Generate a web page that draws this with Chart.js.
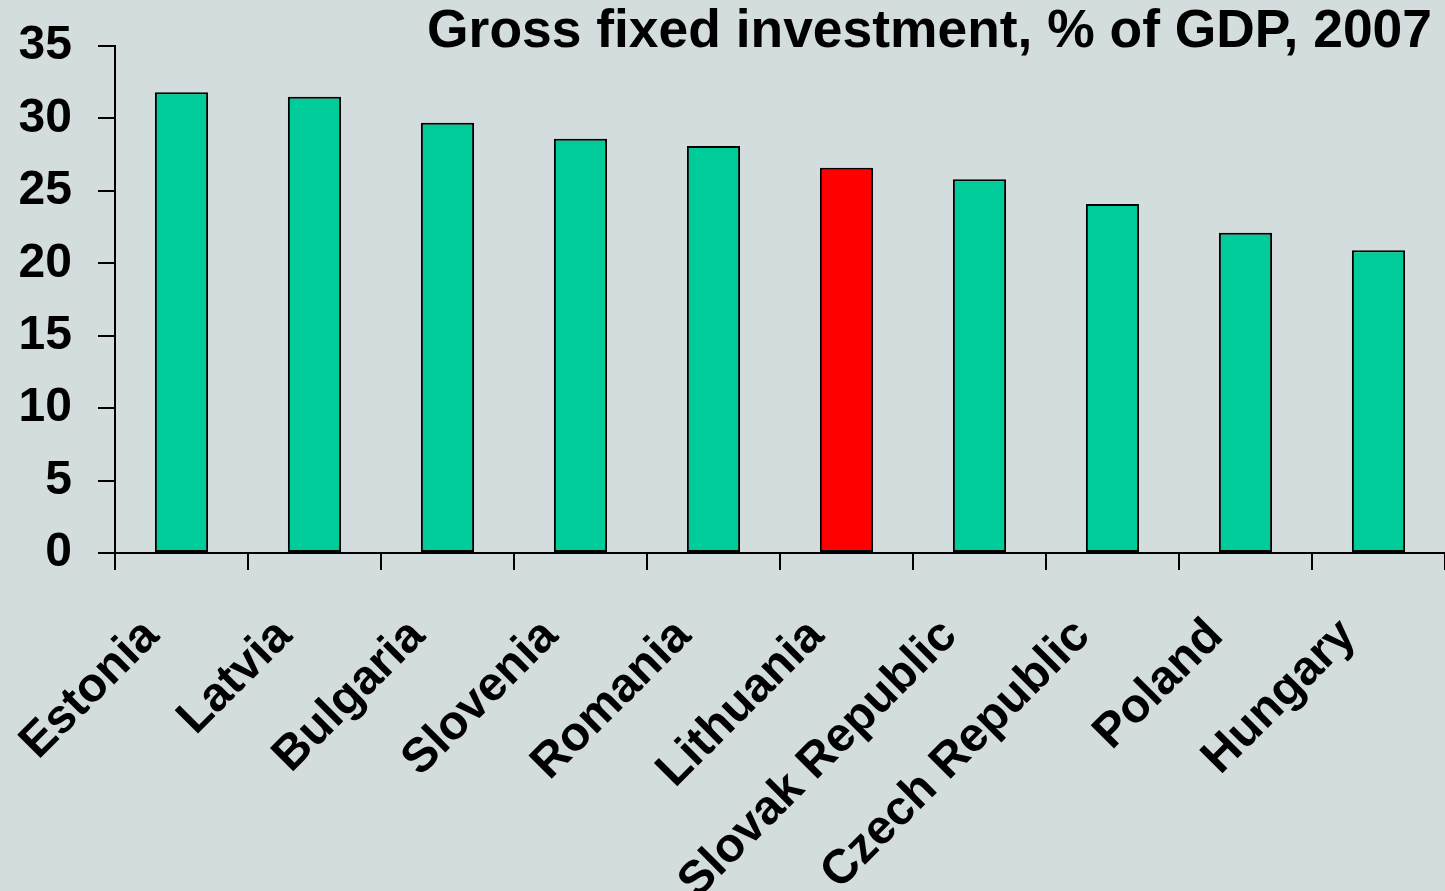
<!DOCTYPE html>
<html>
<head>
<meta charset="utf-8">
<script src="https://cdn.jsdelivr.net/npm/chart.js@4/dist/chart.umd.min.js"></script>
<style>
  html, body { margin: 0; padding: 0; background: #D4DDDE; }
  #wrap { width: 1445px; height: 891px; }
</style>
</head>
<body>
<div id="wrap"><canvas id="investChart" width="1445" height="891"></canvas></div>
<script>
const countries = ['Estonia', 'Latvia', 'Bulgaria', 'Slovenia', 'Romania',
  'Lithuania', 'Slovak Republic', 'Czech Republic', 'Poland', 'Hungary'];
const investment = [31.8, 31.5, 29.7, 28.6, 28.1, 26.6, 25.8, 24.1, 22.1, 20.9];
const yTicks = [0, 5, 10, 15, 20, 25, 30, 35];
const highlight = 'Lithuania';
const chartTitle = 'Gross fixed investment, % of GDP, 2007';

const fontFamily = '"Liberation Sans", Arial, sans-serif';
const tickFont = { family: fontFamily, size: 48, weight: 'bold' };

// title sits right-aligned in the top strip, drawn by hand so it can overlap the plot top
const titlePlugin = {
  id: 'cornerTitle',
  afterDraw(chart) {
    const c = chart.ctx;
    c.save();
    c.font = 'bold 53.4px ' + fontFamily;
    c.fillStyle = '#000000';
    c.textAlign = 'right';
    c.textBaseline = 'alphabetic';
    c.fillText(chartTitle, 1432, 47);
    c.restore();
  }
};

const ctx = document.getElementById('investChart').getContext('2d');
const investChart = new Chart(ctx, {
  type: 'bar',
  data: {
    labels: countries,
    datasets: [{
      data: investment,
      backgroundColor: c => countries[c.dataIndex] === highlight ? '#FF0000' : '#00CC99',
      borderColor: '#000000',
      borderWidth: 2,
      borderSkipped: false,
      categoryPercentage: 1,
      barPercentage: 0.4
    }]
  },
  options: {
    responsive: false,
    animation: false,
    layout: { padding: { left: 0, right: 0, top: 46, bottom: 0 } },
    plugins: {
      legend: { display: false },
      tooltip: { enabled: false },
      title: { display: false }
    },
    scales: {
      y: {
        min: 0,
        max: 35,
        afterBuildTicks: s => { s.ticks = yTicks.map(v => ({ value: v })); },
        afterFit: s => { s.width = 115; s.paddingTop = 0; s.paddingBottom = 0; },
        border: { color: '#000000', width: 2 },
        grid: { drawOnChartArea: false, drawTicks: true, tickLength: 17, color: '#000000', lineWidth: 2 },
        ticks: { color: '#000000', font: tickFont, padding: 26 }
      },
      x: {
        border: { color: '#000000', width: 2 },
        grid: { offset: true, drawOnChartArea: false, drawTicks: true, tickLength: 17, color: '#000000', lineWidth: 2 },
        ticks: { color: '#000000', font: tickFont, maxRotation: 45, minRotation: 45,
                 padding: 38, labelOffset: -30, autoSkip: false },
        afterFit: s => { s.height = 338; s.paddingLeft = 0; s.paddingRight = 0; }
      }
    }
  },
  plugins: [titlePlugin]
});
</script>
</body>
</html>
